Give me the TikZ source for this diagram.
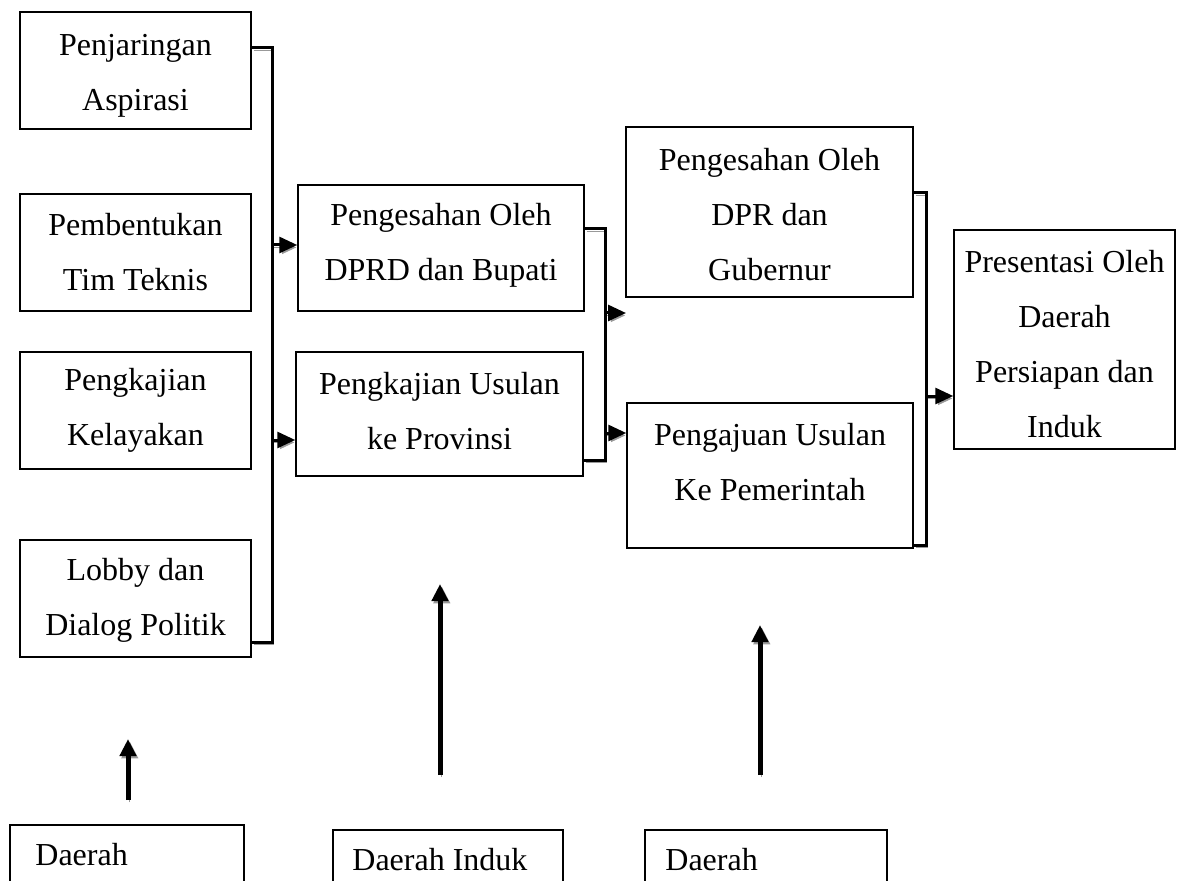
\documentclass[tikz,border=0pt]{standalone}
\usepackage{fontspec}
\setmainfont{Liberation Serif}
\usetikzlibrary{arrows.meta}
\begin{document}
\begin{tikzpicture}[x=0.5pt,y=-0.5pt,
  box/.style={draw, line width=0.75pt, inner sep=0pt},
  txt/.style={align=center, font=\fontsize{16}{27.5}\selectfont},
  ltxt/.style={font=\fontsize{16}{27.5}\selectfont, inner sep=0pt},
  shade/.style={preaction={draw=black!40, transform canvas={shift={(0.9pt,-1.2pt)}}}},
  conn/.style={line width=1.5pt, shade},
  arr/.style={line width=1.5pt, -{Triangle[length=9pt,width=8pt]}, shade},
  uparr/.style={line width=2.5pt, -{Triangle[length=8.5pt,width=8pt]}, shade}
]
\useasboundingbox (0,0) rectangle (1202,881);
\clip (0,0) rectangle (1202,881);

% left column
\node[box, minimum width=115.5pt, minimum height=58.5pt] (b1) at (135.5,70.5) {};
\node[txt] at (135.5,76) {Penjaringan\\Aspirasi};
\node[box, minimum width=115.5pt, minimum height=58.5pt] (b2) at (135.5,252.5) {};
\node[txt] at (135.5,252) {Pembentukan\\Tim Teknis};
\node[box, minimum width=115.5pt, minimum height=58.5pt] (b3) at (135.5,410.5) {};
\node[txt] at (135.5,410) {Pengkajian\\Kelayakan};
\node[box, minimum width=115.5pt, minimum height=58.5pt] (b4) at (135.5,598.5) {};
\node[txt] at (135.5,600) {Lobby dan\\Dialog Politik};

% middle column
\node[box, minimum width=143pt, minimum height=63pt] (b5) at (441,248) {};
\node[txt] at (441,245) {Pengesahan Oleh\\DPRD dan Bupati};
\node[box, minimum width=143.5pt, minimum height=62pt] (b6) at (439.5,414) {};
\node[txt] at (439.5,411) {Pengkajian Usulan\\ke Provinsi};

% right column
\node[box, minimum width=143.5pt, minimum height=85pt] (b7) at (769.5,212) {};
\node[txt] at (769.5,215) {Pengesahan Oleh\\DPR dan\\Gubernur};
\node[box, minimum width=143pt, minimum height=72.5pt] (b8) at (770,475.5) {};
\node[txt] at (770,462) {Pengajuan Usulan\\Ke Pemerintah};

% final
\node[box, minimum width=110.5pt, minimum height=109.5pt] (b9) at (1064.5,339.5) {};
\node[txt] at (1064.5,344) {Presentasi Oleh\\Daerah\\Persiapan dan\\Induk};

% bottom boxes
\node[box, minimum width=117pt, minimum height=52.5pt] (d1) at (127,877.5) {};
\node[ltxt, anchor=base west] at (35,865) {Daerah};
\node[box, minimum width=115pt, minimum height=52.5pt] (d2) at (448,882.5) {};
\node[ltxt, anchor=base west] at (352,870) {Daerah Induk};
\node[box, minimum width=121pt, minimum height=52.5pt] (d3) at (766,882.5) {};
\node[ltxt, anchor=base west] at (665,870) {Daerah};

% bracket 1
\coordinate (k1) at (272,48);
\draw[conn] (b1.east |- k1) -- (k1) -- (272,642) -- (b4.east |- 0,642);
\draw[arr] (k1 |- 0,245) -- (b5.west |- 0,245);
\draw[arr] (k1 |- 0,440) -- (b6.west |- 0,440);

% bracket 2
\coordinate (k2) at (605,229);
\draw[conn] (b5.east |- k2) -- (k2) -- (605,460) -- (b6.east |- 0,460);
\coordinate (e2) at (626,313);
\draw[arr] (k2 |- e2) -- (e2);
\draw[arr] (k2 |- 0,433) -- (b8.west |- 0,433);

% bracket 3
\coordinate (k3) at (926,193);
\draw[conn] (b7.east |- k3) -- (k3) -- (926,545) -- (b8.east |- 0,545);
\draw[arr] (k3 |- 0,396) -- (b9.west |- 0,396);

% up arrows
\coordinate (u1s) at (128,800); \coordinate (u1e) at (128,739);
\coordinate (u2s) at (440,775); \coordinate (u2e) at (440,584);
\coordinate (u3s) at (760,775); \coordinate (u3e) at (760,625);
\draw[uparr] (u1s) -- (u1e);
\draw[uparr] (u2s) -- (u2e);
\draw[uparr] (u3s) -- (u3e);
\end{tikzpicture}
\end{document}
